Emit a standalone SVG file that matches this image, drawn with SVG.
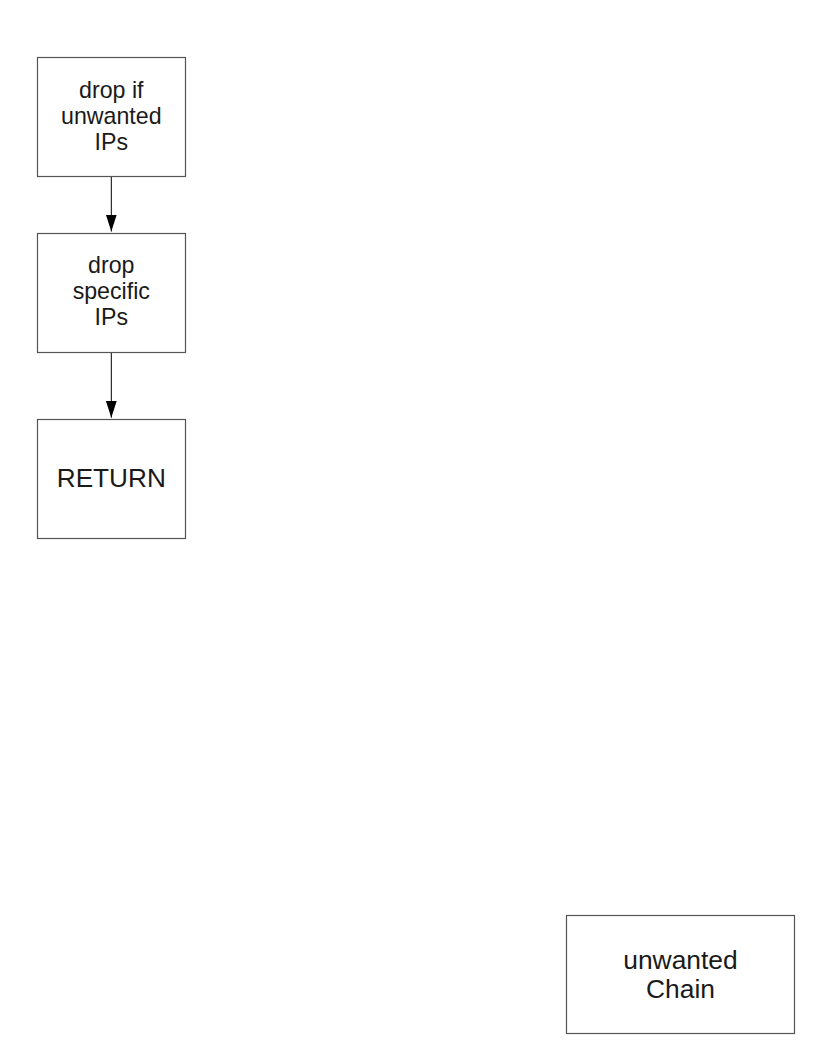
<svg xmlns="http://www.w3.org/2000/svg" width="816" height="1056" viewBox="0 0 816 1056">
<style>
.box{fill:#fff;stroke:#555;stroke-width:1.2}
.t{font-family:"Liberation Sans",Arial,sans-serif;fill:#1a1a1a;text-anchor:middle}
.s{font-size:23.2px}
.r{font-size:26.2px}
.l{font-size:26.4px}
.c{stroke:#000;stroke-width:1;fill:none}
</style>
<defs>
<marker id="ah" markerWidth="17" markerHeight="11" refX="17" refY="5.5" orient="auto" markerUnits="userSpaceOnUse" viewBox="0 0 17 11">
<path d="M0,0 L17,5.5 L0,11 Z" fill="#000"/>
</marker>
</defs>
<rect width="816" height="1056" fill="#fff"/>
<g id="connectors">
<line class="c" x1="111.3" y1="176.5" x2="111.3" y2="231.5" marker-end="url(#ah)"/>
<line class="c" x1="111.3" y1="352.5" x2="111.3" y2="417.7" marker-end="url(#ah)"/>
</g>
<g id="n1">
<rect class="box" x="37.5" y="57.5" width="148" height="119"/>
<text class="t s" x="111.3" y="97.7">drop if</text>
<text class="t s" x="111.3" y="123.7">unwanted</text>
<text class="t s" x="111.3" y="149.5">IPs</text>
</g>
<g id="n2">
<rect class="box" x="37.5" y="233.5" width="148" height="119"/>
<text class="t s" x="111.3" y="273.3">drop</text>
<text class="t s" x="111.3" y="299.2">specific</text>
<text class="t s" x="111.3" y="325">IPs</text>
</g>
<g id="n3">
<rect class="box" x="37.5" y="419.5" width="148" height="119"/>
<text class="t r" x="111.3" y="486.7">RETURN</text>
</g>
<g id="n4">
<rect class="box" x="566.5" y="915.5" width="228" height="118"/>
<text class="t l" x="680.5" y="969">unwanted</text>
<text class="t l" x="680.5" y="998">Chain</text>
</g>
</svg>
